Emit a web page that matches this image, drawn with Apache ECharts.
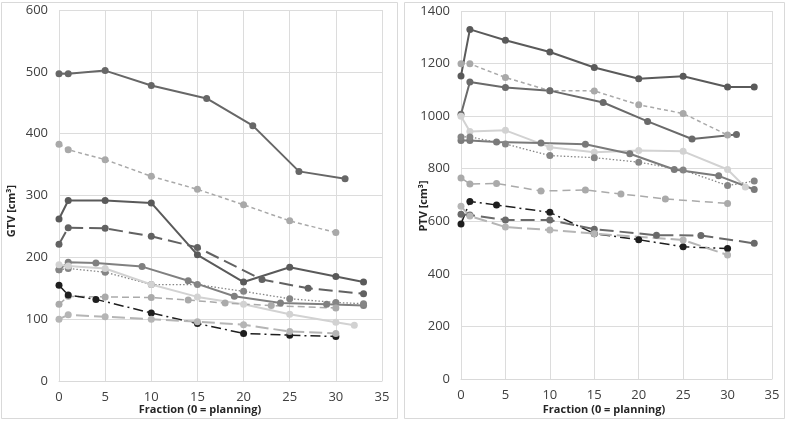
<!DOCTYPE html>
<html><head><meta charset="utf-8">
<script src="https://cdn.jsdelivr.net/npm/echarts@6/dist/echarts.min.js"></script>
<style>html,body{margin:0;padding:0;background:#fff}#c{width:787px;height:421px}</style>
</head><body><div id="c"></div>
<script>
// GTV (left panel)
var gtvFrac1 = [0,1,5,10,16,21,26,31];      var gtv1 = [497,497,502,478,457,413,339,327];
var gtvFrac2 = [0,1,5,10,15,20,25,30];      var gtv2 = [383,374,358,331,310,285,259,240];
var gtvFrac3 = [0,1,5,10,15,20,25,30,33];   var gtv3 = [262,292,292,288,204,160,184,169,160];
var gtvFrac4 = [0,1,5,10,15,22,27,33];      var gtv4 = [221,248,247,234,216,164,150,141];
var gtvFrac5 = [0,1,4,9,14,19,24,29,33];    var gtv5 = [180,192,191,185,162,137,126,124,122];
var gtvFrac6 = [0,1,5,10,15,20,25,30,33];   var gtv6 = [180,182,176,156,156,145,133,127,125];
var gtvFrac7 = [0,1,5,10,15,20,25,30,32];   var gtv7 = [188,186,182,156,136,124,108,95,90];
var gtvFrac8 = [0,1,5,10,14,18,23,30];      var gtv8 = [124,137,136,135,131,126,122,118];
var gtvFrac9 = [0,1,4,10,15,20,25,30];      var gtv9 = [155,139,132,110,93,77,74,72];
var gtvFrac10 = [0,1,5,10,15,20,25,30];     var gtv10 = [100,107,104,100,96,91,80,77];
// PTV (right panel)
var ptvFrac1 = [0,1,5,10,15,20,25,30,33];   var ptv1 = [1153,1330,1289,1244,1185,1142,1152,1111,1111];
var ptvFrac2 = [0,1,5,10,15,20,25,30];      var ptv2 = [1199,1199,1147,1097,1096,1043,1010,928];
var ptvFrac3 = [0,1,5,10,16,21,26,31];      var ptv3 = [1007,1130,1109,1097,1052,980,913,930];
var ptvFrac4 = [0,1,5,10,15,20,25,30,32];   var ptv4 = [1000,942,946,882,863,869,866,797,730];
var ptvFrac5 = [0,1,4,9,14,19,24,29,33];    var ptv5 = [907,907,902,898,893,857,797,773,721];
var ptvFrac6 = [0,1,5,10,15,20,25,30,33];   var ptv6 = [921,921,894,850,842,825,795,736,753];
var ptvFrac7 = [0,1,4,9,14,18,23,30];       var ptv7 = [765,742,744,715,719,704,685,668];
var ptvFrac8 = [0,1,4,10,15,20,25,30];      var ptv8 = [590,675,662,634,553,530,503,496];
var ptvFrac9 = [0,1,5,10,15,22,27,33];      var ptv9 = [627,624,605,605,570,547,546,516];
var ptvFrac10 = [0,1,5,10,15,25,30];        var ptv10 = [657,620,578,567,553,529,472];

var xTicks = [0,5,10,15,20,25,30,35];
var gtvTicks = [0,100,200,300,400,500,600];
var ptvTicks = [0,200,400,600,800,1000,1200,1400];

var gtvStyles = [
  {c:'#676767', t:'solid', w:2},
  {c:'#a9a9a9', t:[4,3], w:1.5},
  {c:'#5a5a5a', t:'solid', w:2},
  {c:'#626262', t:[14,6], w:2},
  {c:'#808080', t:'solid', w:2},
  {c:'#858585', t:[1.5,2], w:1.3},
  {c:'#d2d2d2', t:'solid', w:2},
  {c:'#aaaaaa', t:[7,4], w:1.5},
  {c:'#1e1e1e', t:[10,4,2,4], w:1.5},
  {c:'#b5b5b5', t:[13,5], w:2}
];
var ptvStyles = [
  {c:'#5a5a5a', t:'solid', w:2},
  {c:'#a9a9a9', t:[4,3], w:1.5},
  {c:'#6a6a6a', t:'solid', w:2},
  {c:'#d2d2d2', t:'solid', w:2},
  {c:'#7a7a7a', t:'solid', w:2},
  {c:'#858585', t:[1.5,2], w:1.3},
  {c:'#aaaaaa', t:[8,5], w:1.5},
  {c:'#1e1e1e', t:[10,4,2,4], w:1.5},
  {c:'#6a6a6a', t:[14,6], w:2},
  {c:'#b5b5b5', t:[13,5], w:2}
];

var gtvF = [gtvFrac1,gtvFrac2,gtvFrac3,gtvFrac4,gtvFrac5,gtvFrac6,gtvFrac7,gtvFrac8,gtvFrac9,gtvFrac10];
var gtvV = [gtv1,gtv2,gtv3,gtv4,gtv5,gtv6,gtv7,gtv8,gtv9,gtv10];
var ptvF = [ptvFrac1,ptvFrac2,ptvFrac3,ptvFrac4,ptvFrac5,ptvFrac6,ptvFrac7,ptvFrac8,ptvFrac9,ptvFrac10];
var ptvV = [ptv1,ptv2,ptv3,ptv4,ptv5,ptv6,ptv7,ptv8,ptv9,ptv10];

function pairs(f, v){ return f.map(function(x,i){ return [x, v[i]]; }); }
var series = [];
function add(F, V, idx, styles){
  for (var i=0;i<F.length;i++){
    var s = styles[i];
    series.push({
      type:'line', xAxisIndex:idx, yAxisIndex:idx, data:pairs(F[i],V[i]),
      symbol:'circle', symbolSize:7, showSymbol:true, animation:false,
      lineStyle:{color:s.c, type:s.t, width:s.w},
      itemStyle:{color:s.c}
    });
  }
}
add(gtvF, gtvV, 0, gtvStyles);
add(ptvF, ptvV, 1, ptvStyles);

var font = '"Open Sans", sans-serif';
function xAx(gi){
  return {type:'value', gridIndex:gi, min:xTicks[0], max:xTicks[xTicks.length-1], interval:xTicks[1]-xTicks[0],
    axisLine:{show:true, lineStyle:{color:'#d9d9d9'}}, axisTick:{show:false},
    splitLine:{show:true, lineStyle:{color:'#dcdcdc', width:1}},
    axisLabel:{color:'#404040', fontSize:13, fontFamily:font, margin:10}};
}
function yAx(gi, t){
  return {type:'value', gridIndex:gi, min:t[0], max:t[t.length-1], interval:t[1]-t[0],
    axisLine:{show:false}, axisTick:{show:false},
    splitLine:{show:true, lineStyle:{color:'#dcdcdc', width:1}},
    axisLabel:{color:'#404040', fontSize:13, fontFamily:font, margin:11, formatter:function(v){ return String(v); }}};
}

var chart = echarts.init(document.getElementById('c'), null, {renderer:'canvas'});
chart.setOption({
  backgroundColor:'#fff',
  animation:false,
  grid:[
    {left:59, top:10, width:323, height:371},
    {left:461, top:11, width:311, height:368}
  ],
  xAxis:[xAx(0), xAx(1)],
  yAxis:[yAx(0,gtvTicks), yAx(1,ptvTicks)],
  series:series,
  graphic:[
    {type:'rect', shape:{x:1.5, y:2.5, width:396, height:416}, style:{fill:'none', stroke:'#d9d9d9', lineWidth:1}, z:-10},
    {type:'rect', shape:{x:404.5, y:2.5, width:380, height:416}, style:{fill:'none', stroke:'#d9d9d9', lineWidth:1}, z:-10},
    {type:'text', x:200, y:410, style:{text:'Fraction (0 = planning)', font:'bold 11px "Open Sans", sans-serif', fill:'#262626', textAlign:'center', textVerticalAlign:'middle'}},
    {type:'text', x:604, y:410, style:{text:'Fraction (0 = planning)', font:'bold 11px "Open Sans", sans-serif', fill:'#262626', textAlign:'center', textVerticalAlign:'middle'}},
    {type:'text', x:12, y:211, rotation:Math.PI/2, style:{text:'GTV [cm³]', font:'bold 11px "Open Sans", sans-serif', fill:'#262626', textAlign:'center', textVerticalAlign:'middle'}},
    {type:'text', x:424, y:206, rotation:Math.PI/2, style:{text:'PTV [cm³]', font:'bold 11px "Open Sans", sans-serif', fill:'#262626', textAlign:'center', textVerticalAlign:'middle'}}
  ]
});
</script></body></html>
